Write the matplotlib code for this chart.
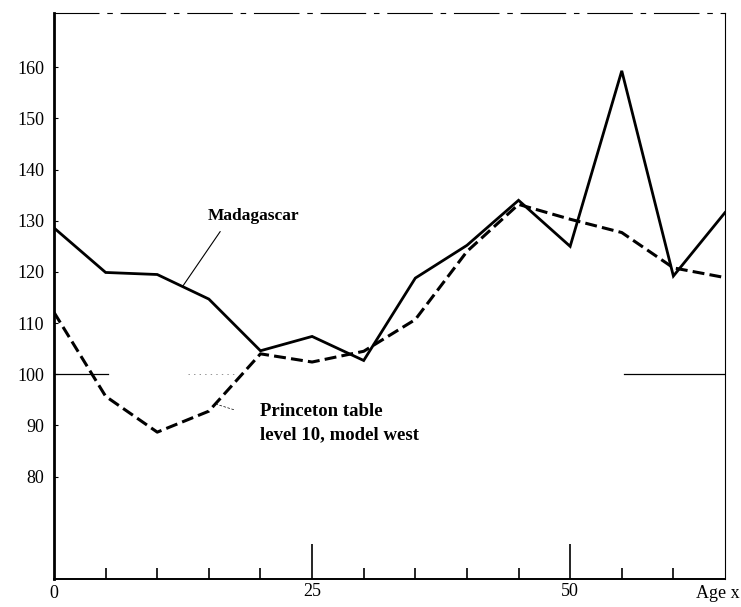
import matplotlib
matplotlib.use("Agg")
import matplotlib.pyplot as plt

plt.rcParams.update({
    "font.family": "Liberation Serif",
    "font.size": 13,
})

# age groups (years) and index values
ages = [0, 5, 10, 15, 20, 25, 30, 35, 40, 45, 50, 55, 60, 65]
madagascar = [128.6, 119.9, 119.5, 114.7, 104.6, 107.4, 102.7,
              118.8, 125.2, 134.0, 125.0, 159.3, 119.2, 131.6]
princeton = [112.1, 95.7, 88.7, 92.8, 104.0, 102.4, 104.5,
             110.7, 124.0, 133.2, 130.3, 127.7, 120.8, 118.9]

y_ticks = [80, 90, 100, 110, 120, 130, 140, 150, 160]
x_labels = {0: "0", 25: "25", 50: "50"}

fig = plt.figure(figsize=(7.41, 6.07), dpi=100)
ax = fig.add_axes([0.0729, 0.0461, 0.9055, 0.9325])

ax.plot(ages, madagascar, color="black", lw=2.0, solid_joinstyle="miter")
ax.plot(ages, princeton, color="black", lw=2.2, ls=(0, (3.9, 1.7)))

# broken reference line at 100
ax.axhline(100, xmin=0.0, xmax=0.08, color="black", lw=0.9)
ax.axhline(100, xmin=0.85, xmax=1.0, color="black", lw=0.9)
ax.axhline(100, xmin=0.2, xmax=0.27, color="black", lw=0.5, ls=(0, (2, 6)), alpha=0.6)

ax.set_xlim(0, 65)
ax.set_ylim(60, 170.6)

for side in ["top", "right"]:
    ax.spines[side].set_linewidth(0.8)
ax.spines["top"].set_linestyle((0, (40, 8, 4, 8)))
ax.spines["left"].set_linewidth(2.0)
ax.spines["bottom"].set_linewidth(1.4)

# y axis: tiny inward ticks
ax.set_yticks(y_ticks)
ax.tick_params(axis="y", direction="in", length=3, width=0.8, pad=7,
               labelsize=13)

# x axis: minor ticks every 5, longer marks at 25 and 50
ax.set_xticks([25, 50])
ax.set_xticklabels([x_labels[25], x_labels[50]])
ax.set_xticks([5, 10, 15, 20, 30, 35, 40, 45, 55, 60], minor=True)
ax.tick_params(axis="x", which="major", direction="in", length=25, width=1.2,
               pad=3, labelsize=13)
ax.tick_params(axis="x", which="minor", direction="in", length=8, width=1.2)
ax.text(0, -0.01, x_labels[0], transform=ax.get_xaxis_transform(),
        ha="center", va="top", fontsize=13)
ax.text(1.022, -0.01, "Age x", transform=ax.transAxes, ha="right", va="top",
        fontsize=13, clip_on=False)

# labels with leader lines
ax.text(14.9, 130.9, "Madagascar", fontsize=12.5, fontweight="bold",
        va="center", ha="left")
ax.annotate("", xy=(12.5, 117.3), xytext=(16.1, 127.9),
            arrowprops=dict(arrowstyle="-", color="black", lw=0.8,
                            shrinkA=0, shrinkB=0))
ax.text(20.0, 90.4, "Princeton table\nlevel 10, model west", fontsize=13.5,
        fontweight="bold", va="center", ha="left", linespacing=1.5)
ax.annotate("", xy=(15.8, 94.1), xytext=(17.4, 93.1),
            arrowprops=dict(arrowstyle="-", color="black", lw=0.5,
                            ls=(0, (3, 3)), shrinkA=0, shrinkB=0))

fig.savefig("out.png", dpi=100)
